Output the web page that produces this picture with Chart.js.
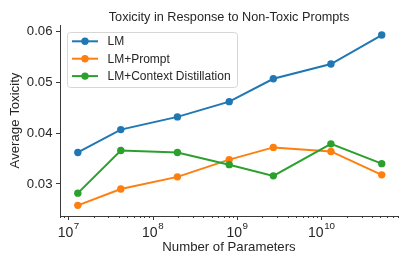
<!DOCTYPE html>
<html>
<head>
<meta charset="utf-8">
<script src="https://cdn.jsdelivr.net/npm/chart.js@4.4.0/dist/chart.umd.min.js"></script>
<style>
    html, body { margin: 0; padding: 0; background: #fff; }
</style>
</head>
<body>
<canvas id="chart" width="407" height="271"></canvas>
<script>
// model sizes (x) and toxicity per setup (y)
const params = [1.3e7, 4.2e7, 1.97e8, 8.1e8, 2.7e9, 1.3e10, 5.2e10];
const lmValues = [0.0362, 0.0407, 0.0432, 0.0462, 0.0507, 0.0536, 0.0593];
const promptValues = [0.0258, 0.0290, 0.0314, 0.0348, 0.0372, 0.0364, 0.0318];
const distillValues = [0.0282, 0.0366, 0.0362, 0.0338, 0.0316, 0.0379, 0.0340];
const seriesNames = ['LM', 'LM+Prompt', 'LM+Context Distillation'];
const seriesColors = ['#1f77b4', '#ff7f0e', '#2ca02c'];
const yTicks = [0.03, 0.04, 0.05, 0.06];
const xMajorExps = [7, 8, 9, 10];
const chartTitle = 'Toxicity in Response to Non-Toxic Prompts';

const FONT = "'Liberation Sans', Arial, sans-serif";
const TEXT = '#262626';
const AXIS = '#3a3a3a';

const toPoints = vals => vals.map((v, i) => ({ x: params[i], y: v }));

const makeSet = (i, vals, order) => ({
    label: seriesNames[i],
    data: toPoints(vals),
    borderColor: seriesColors[i],
    backgroundColor: seriesColors[i],
    pointBackgroundColor: seriesColors[i],
    pointBorderWidth: 0,
    pointRadius: 3.7,
    borderWidth: 2,
    tension: 0,
    order: order
});

// title centred over the plot area, not the canvas
const titlePlugin = {
    id: 'axTitle',
    afterDraw(chart) {
        const ctx = chart.ctx;
        const a = chart.chartArea;
        ctx.save();
        ctx.fillStyle = TEXT;
        ctx.font = '12.7px ' + FONT;
        ctx.textAlign = 'center';
        ctx.textBaseline = 'alphabetic';
        ctx.fillText(chartTitle, (a.left + a.right) / 2, 20.5);
        ctx.restore();
    }
};

// log axis ticks with minor marks + 10^n labels
const xTickPlugin = {
    id: 'xTicks',
    afterDraw(chart) {
        const ctx = chart.ctx;
        const xs = chart.scales.x;
        const y0 = xs.top;
        ctx.save();
        ctx.strokeStyle = AXIS;
        ctx.lineWidth = 1;
        for (let k = 6; k <= 10; k++) {
            for (let m = 1; m <= 9; m++) {
                const v = m * Math.pow(10, k);
                if (v < xs.min || v > xs.max) continue;
                const px = Math.round(xs.getPixelForValue(v)) + 0.5;
                const len = m === 1 ? 4 : 2;
                ctx.beginPath();
                ctx.moveTo(px, y0);
                ctx.lineTo(px, y0 + len);
                ctx.stroke();
            }
        }
        ctx.fillStyle = TEXT;
        ctx.textBaseline = 'alphabetic';
        ctx.textAlign = 'left';
        xMajorExps.forEach(e => {
            const px = xs.getPixelForValue(Math.pow(10, e));
            ctx.font = '14px ' + FONT;
            const wBase = ctx.measureText('10').width;
            ctx.font = '9.8px ' + FONT;
            const wExp = ctx.measureText(String(e)).width;
            const start = px - (wBase + wExp) / 2;
            ctx.font = '14px ' + FONT;
            ctx.fillText('10', start, 237);
            ctx.font = '9.8px ' + FONT;
            ctx.fillText(String(e), start + wBase + 0.5, 229);
        });
        ctx.restore();
    }
};

// legend box inside the plot, top left
const legendPlugin = {
    id: 'boxLegend',
    afterDraw(chart) {
        const ctx = chart.ctx;
        const bx = 67.5, by = 32.5, bw = 170, bh = 55, r = 3;
        ctx.save();
        ctx.beginPath();
        ctx.roundRect(bx, by, bw, bh, r);
        ctx.fillStyle = 'rgba(255,255,255,0.8)';
        ctx.fill();
        ctx.strokeStyle = '#d6d6d6';
        ctx.lineWidth = 1;
        ctx.stroke();
        chart.data.datasets.forEach((ds, i) => {
            const y = 41.3 + i * 17.4;
            ctx.strokeStyle = ds.borderColor;
            ctx.lineWidth = 2;
            ctx.beginPath();
            ctx.moveTo(72, y);
            ctx.lineTo(98, y);
            ctx.stroke();
            ctx.fillStyle = ds.borderColor;
            ctx.beginPath();
            ctx.arc(85, y, 3.7, 0, Math.PI * 2);
            ctx.fill();
            ctx.fillStyle = TEXT;
            ctx.font = '12px ' + FONT;
            ctx.textBaseline = 'middle';
            ctx.fillText(ds.label, 107.5, y + 0.5);
        });
        ctx.restore();
    }
};

new Chart(document.getElementById('chart').getContext('2d'), {
    type: 'line',
    data: {
        datasets: [
            makeSet(0, lmValues, 2),
            makeSet(1, promptValues, 1),
            makeSet(2, distillValues, 0)
        ]
    },
    options: {
        responsive: false,
        devicePixelRatio: 1,
        animation: false,
        layout: { padding: { left: 0, right: 9, top: 25, bottom: 0 } },
        plugins: {
            legend: { display: false },
            tooltip: { enabled: false },
            title: { display: false }
        },
        scales: {
            x: {
                type: 'logarithmic',
                position: 'bottom',
                min: Math.pow(10, 6.9026),
                max: Math.pow(10, 10.909),
                grid: { display: false },
                border: { display: true, color: AXIS, width: 1 },
                ticks: { display: false },
                title: {
                    display: true,
                    text: 'Number of Parameters',
                    color: TEXT,
                    font: { family: FONT, size: 13.2 },
                    padding: { top: 0, bottom: 16 }
                },
                afterFit(scale) { scale.height = 55; }
            },
            y: {
                type: 'linear',
                min: 0.0237,
                max: 0.06128,
                grid: { display: true, drawOnChartArea: false, drawTicks: true, tickLength: 4, tickColor: AXIS },
                border: { display: true, color: AXIS, width: 1 },
                afterBuildTicks(scale) {
                    scale.ticks = yTicks.map(v => ({ value: v }));
                },
                ticks: {
                    color: TEXT,
                    font: { family: FONT, size: 13.2 },
                    padding: 3.5,
                    callback: v => v.toFixed(2)
                },
                title: {
                    display: true,
                    text: 'Average Toxicity',
                    color: TEXT,
                    font: { family: FONT, size: 13.2 },
                    padding: { top: 7.5, bottom: 0 }
                },
                afterFit(scale) { scale.width = 60; }
            }
        }
    },
    plugins: [xTickPlugin, legendPlugin, titlePlugin]
});
</script>
</body>
</html>
